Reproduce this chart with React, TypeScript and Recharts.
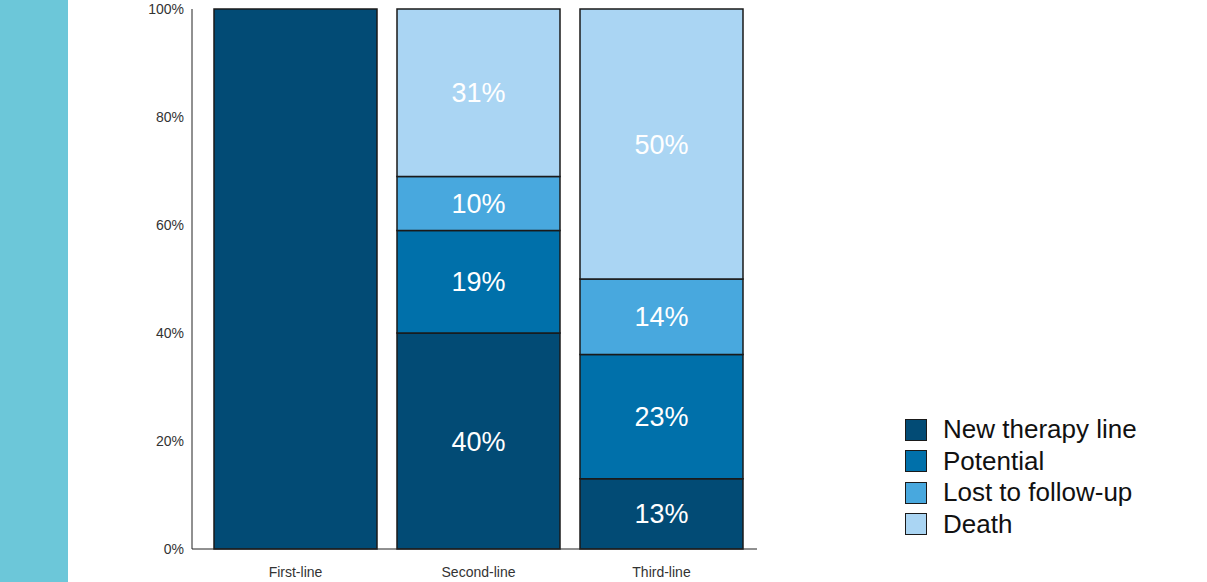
import { BarChart, Bar, XAxis, YAxis, LabelList } from 'recharts';

const categories = ['First-line', 'Second-line', 'Third-line'];
const newTherapy = [100, 40, 13];
const potential = [0, 19, 23];
const lost = [0, 10, 14];
const death = [0, 31, 50];
const showLabels = [false, true, true];
const yTicks = [0, 20, 40, 60, 80, 100];

const series = [
  { key: 'newTherapy', name: 'New therapy line', color: '#024b75' },
  { key: 'potential', name: 'Potential', color: '#0070aa' },
  { key: 'lost', name: 'Lost to follow-up', color: '#48a8de' },
  { key: 'death', name: 'Death', color: '#aad5f3' },
];

const data = categories.map((c, i) => ({
  cat: c,
  newTherapy: newTherapy[i],
  potential: potential[i],
  lost: lost[i],
  death: death[i],
  newTherapyL: showLabels[i] ? newTherapy[i] : null,
  potentialL: showLabels[i] ? potential[i] : null,
  lostL: showLabels[i] ? lost[i] : null,
  deathL: showLabels[i] ? death[i] : null,
}));

export default function App() {
  return (
    <div style={{ position: 'absolute', left: 0, top: 0, width: 1207, height: 582, background: '#fff', fontFamily: 'Arial, "Liberation Sans", sans-serif' }}>
      <div style={{ position: 'absolute', left: 0, top: 0, width: 68, height: 582, background: '#6cc7d9' }} />
      <div style={{ position: 'absolute', left: 0, top: 0 }}>
        <BarChart width={800} height={582} data={data} margin={{ top: 9, right: 43, bottom: 3, left: 0 }} barCategoryGap={10}>
          <XAxis dataKey="cat" height={30} padding={{ left: 12, right: 4 }} stroke="#222" tickLine={false}
            tick={{ fill: '#333', fontSize: 14 }} tickMargin={12} />
          <YAxis type="number" domain={[0, 100]} ticks={yTicks} width={192} stroke="#222" tickLine={false}
            tickFormatter={(v) => `${v}%`} tick={{ fill: '#333', fontSize: 14 }} interval={0} />
          {series.map((s) => (
            <Bar key={s.key} dataKey={s.key} stackId="a" fill={s.color} stroke="#1a1a1a" strokeWidth={1.5} isAnimationActive={false}>
              <LabelList dataKey={`${s.key}L`} position="center" fill="#fff" fontSize={27}
                formatter={(v: any) => (v == null ? '' : `${v}%`)} />
            </Bar>
          ))}
        </BarChart>
      </div>
      <div style={{ position: 'absolute', left: 905, top: 414 }}>
        {series.map((s) => (
          <div key={s.key} style={{ display: 'flex', alignItems: 'center', height: 31.5, fontSize: 26, color: '#111' }}>
            <div style={{ width: 20, height: 20, background: s.color, border: '1.5px solid #1a1a1a', marginRight: 16 }} />
            {s.name}
          </div>
        ))}
      </div>
    </div>
  );
}
